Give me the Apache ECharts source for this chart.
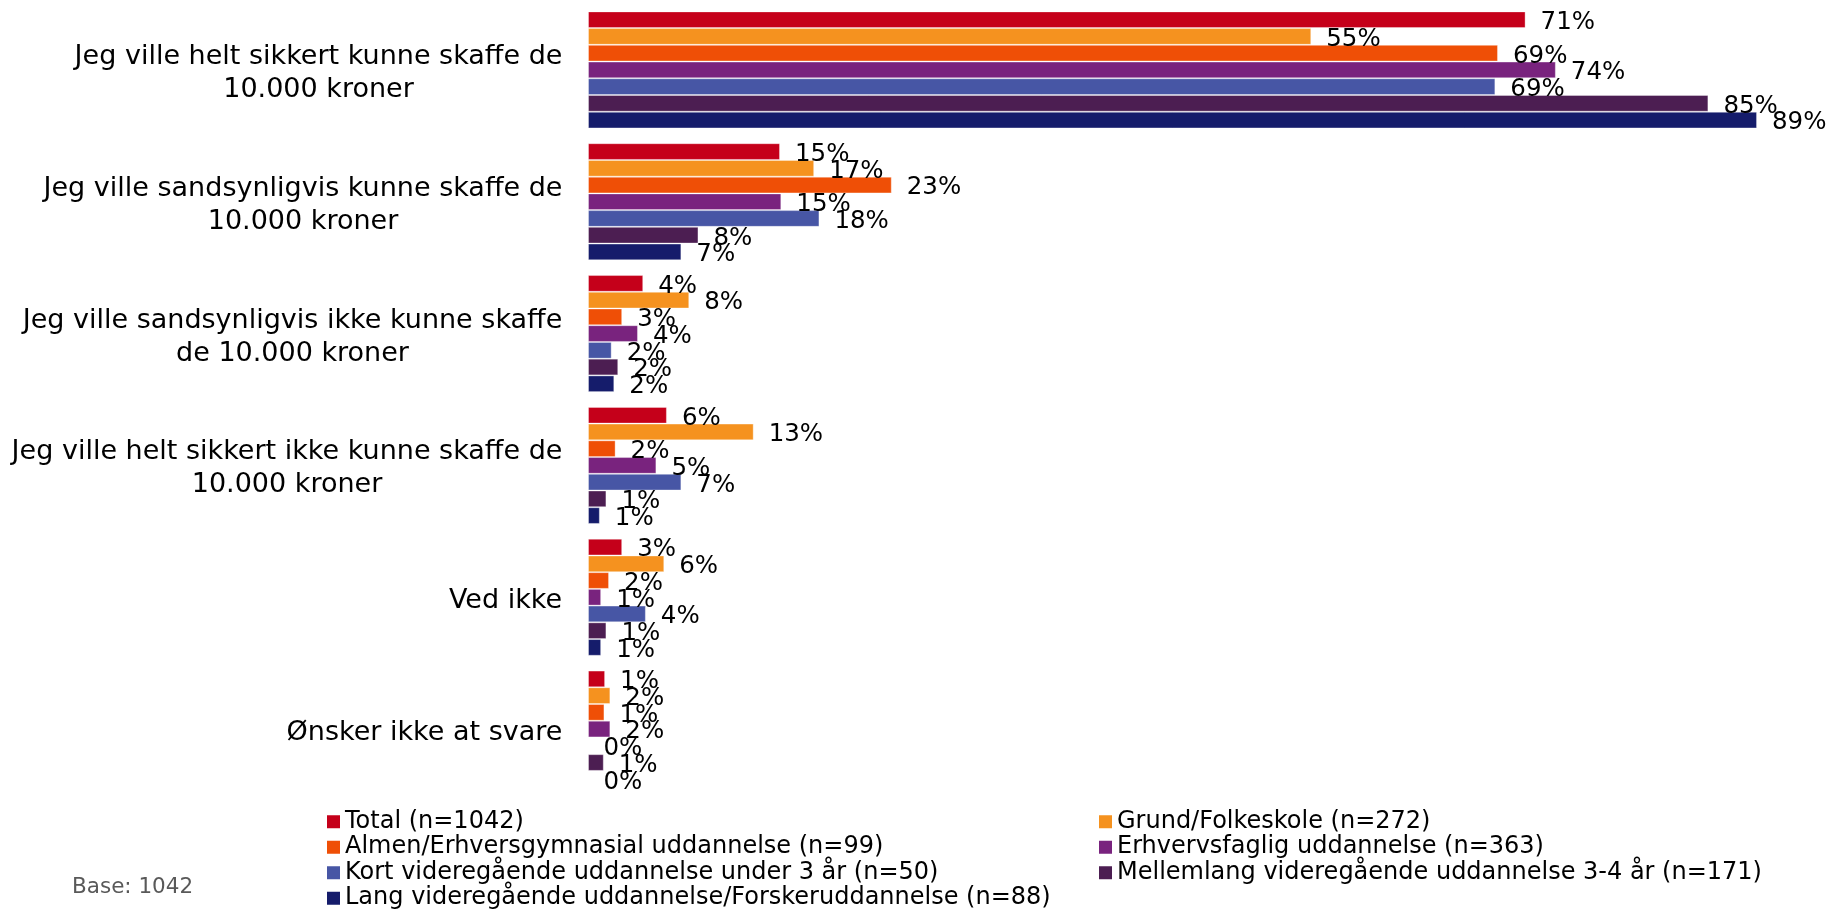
<!DOCTYPE html>
<html><head><meta charset="utf-8">
<script src="https://cdn.jsdelivr.net/npm/echarts@6/dist/echarts.min.js"></script>
<style>html,body{margin:0;padding:0;background:#fff}#c{width:1831px;height:911px}</style>
</head><body><div id="c"></div>
<script>
const categories = [
  "Jeg ville helt sikkert kunne skaffe de\n10.000 kroner",
  "Jeg ville sandsynligvis kunne skaffe de\n10.000 kroner",
  "Jeg ville sandsynligvis ikke kunne skaffe\nde 10.000 kroner",
  "Jeg ville helt sikkert ikke kunne skaffe de\n10.000 kroner",
  "Ved ikke",
  "Ønsker ikke at svare"
];
const seriesNames = [
  "Total (n=1042)",
  "Grund/Folkeskole (n=272)",
  "Almen/Erhversgymnasial uddannelse (n=99)",
  "Erhvervsfaglig uddannelse (n=363)",
  "Kort videregående uddannelse under 3 år (n=50)",
  "Mellemlang videregående uddannelse 3-4 år (n=171)",
  "Lang videregående uddannelse/Forskeruddannelse (n=88)"
];
const total   = [71.3, 14.6, 4.2, 6.0, 2.6, 1.3];
const grund   = [55.0, 17.2, 7.7, 12.6, 5.8, 1.7];
const almen   = [69.2, 23.1, 2.6, 2.1, 1.6, 1.25];
const erhverv = [73.6, 14.7, 3.8, 5.2, 1.0, 1.7];
const kort    = [69.0, 17.6, 1.8, 7.1, 4.4, 0];
const mellem  = [85.2, 8.4, 2.3, 1.4, 1.4, 1.2];
const lang    = [88.9, 7.1, 2.0, 0.9, 1.0, 0];
const baseText = "Base: 1042";

const seriesValues = [total, grund, almen, erhverv, kort, mellem, lang];
const colors = ['#C5001A', '#F5921F', '#EF4F06', '#79237E', '#4756A5', '#4C1E52', '#151C6B'];
const FONT = '"DejaVu Sans", Verdana, sans-serif';
const CAT_SIZE = 27;

// measure category lines to centre each line within its right-aligned block
const ctx = document.createElement('canvas').getContext('2d');
ctx.font = CAT_SIZE + 'px "DejaVu Sans"';
const rich = {};
categories.forEach((c, i) => {
  const w = Math.max(...c.split('\n').map(l => ctx.measureText(l).width));
  rich['c' + i] = { width: Math.ceil(w) + 1, align: 'center', fontSize: CAT_SIZE, lineHeight: 33, fontFamily: FONT, color: '#000' };
});

const chart = echarts.init(document.getElementById('c'), null, { renderer: 'canvas' });
chart.setOption({
  animation: false,
  backgroundColor: '#fff',
  grid: { left: 588, right: 59.5, top: 4, height: 791, containLabel: false },
  xAxis: { type: 'value', min: 0, max: 90, show: false },
  yAxis: {
    type: 'category', inverse: true, data: categories,
    axisLine: { show: false }, axisTick: { show: false }, splitLine: { show: false },
    axisLabel: {
      margin: 25, align: 'right', padding: [7, 0, 0, 0],
      formatter: (v, i) => v.split('\n').map(l => '{c' + i + '|' + l + '}').join('\n'),
      rich: rich
    }
  },
  legend: [
    {
      orient: 'vertical', left: 327, top: 809, height: 120, padding: 0, itemGap: 0, itemWidth: 13, itemHeight: 13, icon: 'rect',
      data: [seriesNames[0], seriesNames[2], seriesNames[4], seriesNames[6]],
      textStyle: { fontSize: 24, lineHeight: 25.5, fontFamily: FONT, color: '#000' },
      itemStyle: { borderWidth: 0 }
    },
    {
      orient: 'vertical', left: 1099, top: 809, height: 120, padding: 0, itemGap: 0, itemWidth: 13, itemHeight: 13, icon: 'rect',
      data: [seriesNames[1], seriesNames[3], seriesNames[5]],
      textStyle: { fontSize: 24, lineHeight: 25.5, fontFamily: FONT, color: '#000' },
      itemStyle: { borderWidth: 0 }
    }
  ],
  graphic: [{
    type: 'text', left: 72, top: 876,
    style: { text: baseText, fontSize: 21.5, fontFamily: FONT, fill: '#595959' }
  }],
  series: seriesNames.map((n, k) => ({
    name: n, type: 'bar', data: seriesValues[k],
    barGap: '0%', barCategoryGap: '11.2%',
    itemStyle: { color: colors[k], borderColor: 'rgba(255,255,255,0.35)', borderWidth: 1 },
    label: {
      show: true, position: 'right', distance: 15, offset: [0, 3],
      fontSize: 24.5, fontFamily: FONT, color: '#000',
      formatter: p => Math.round(p.value) + '%'
    }
  }))
});
</script>
</body></html>
